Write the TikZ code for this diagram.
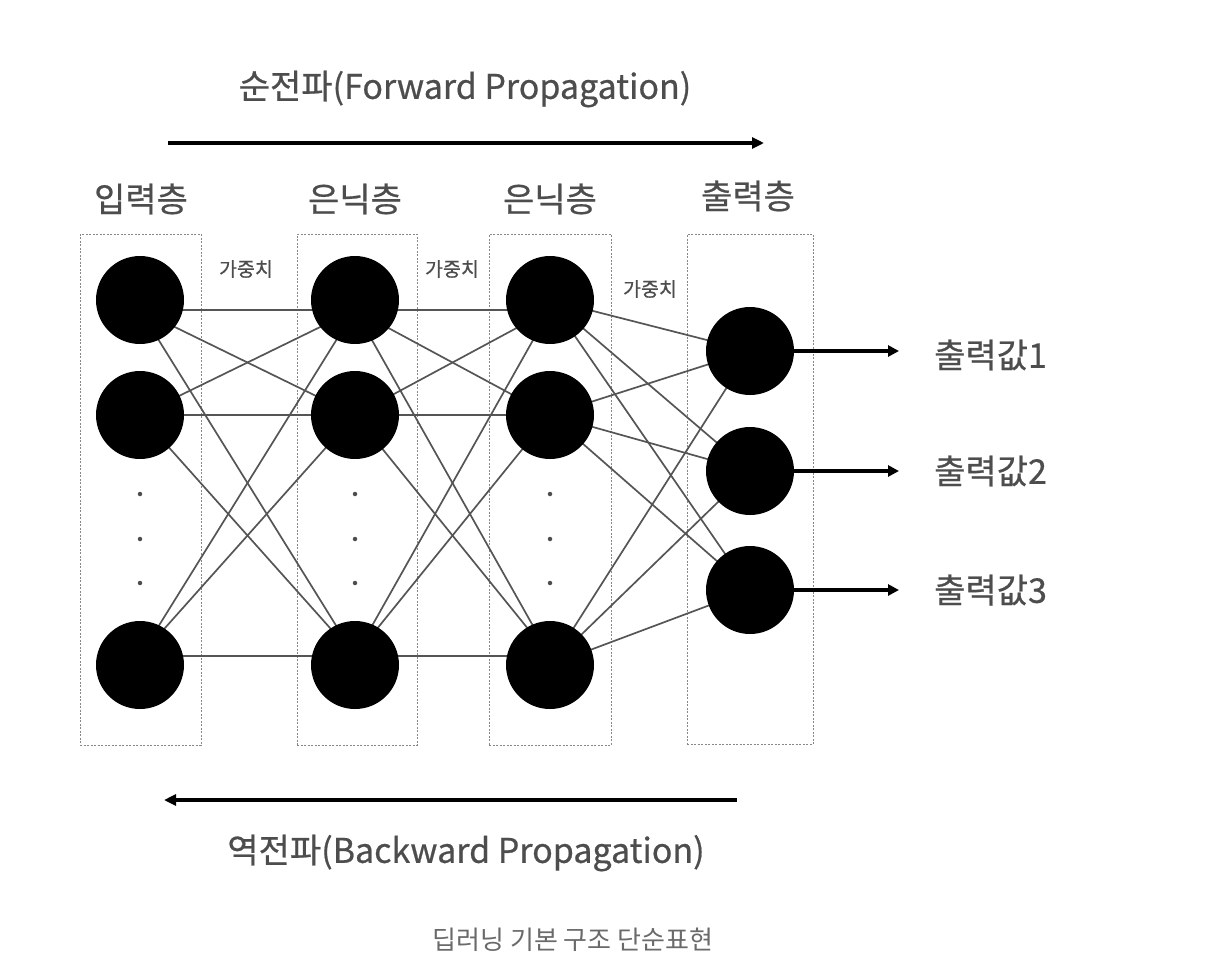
\documentclass[tikz,border=0pt]{standalone}
\usepackage{fontspec}
\setmainfont{Noto Sans CJK KR}
\newfontfamily\hfont[FakeBold=0.6]{Noto Sans CJK KR}
\usetikzlibrary{arrows.meta}
\definecolor{txtgray}{HTML}{4D4D4D}
\definecolor{capgray}{HTML}{6A6A6A}
\definecolor{edgegray}{HTML}{555555}
\definecolor{boxgray}{HTML}{888888}
\begin{document}
\begin{tikzpicture}[x=1pt,y=-1pt,
  neuron/.style={circle,fill=black,draw=none,minimum size=88pt,inner sep=0pt},
  layerbox/.style={draw=boxgray,line width=1pt,dash pattern=on 2pt off 1.5pt},
  edge/.style={draw=edgegray,line width=1.7pt},
  outarrow/.style={draw=black,line width=3.2pt,-{Triangle[length=11pt,width=11pt]}},
  proparrow/.style={draw=black,line width=3.4pt,-{Triangle[length=12pt,width=11pt]}},
  header/.style={text=txtgray,font=\hfont\fontsize{34}{40}\selectfont,inner sep=0pt},
  weight/.style={text=txtgray,font=\hfont\fontsize{19.5}{23}\selectfont,inner sep=0pt},
  outlabel/.style={text=txtgray,font=\hfont\fontsize{34}{40}\selectfont,inner sep=0pt,anchor=west},
  dotmark/.style={circle,fill=txtgray,minimum size=4.5pt,inner sep=0pt}
]
\useasboundingbox (0,0) rectangle (1218,970);
\fill[white] (0,0) rectangle (1218,970);

% layer boxes
\node[layerbox,draw,minimum width=121pt,minimum height=511pt,inner sep=0pt] (b1) at (140.5,489.5) {};
\node[layerbox,draw,minimum width=120pt,minimum height=511pt,inner sep=0pt] (b2) at (357,489.5) {};
\node[layerbox,draw,minimum width=122pt,minimum height=511pt,inner sep=0pt] (b3) at (550,489.5) {};
\node[layerbox,draw,minimum width=126pt,minimum height=510pt,inner sep=0pt] (b4) at (750,489) {};

% edge hub coordinates
\foreach \L/\x in {1/140,2/355,3/550}{
  \coordinate (h\L a) at (\x,310);
  \coordinate (h\L b) at (\x,415);
  \coordinate (h\L c) at (\x,656);
}
\coordinate (c3a) at (550,300);
\coordinate (c3b) at (550,415);
\coordinate (c3c) at (550,665);
\coordinate (c4a) at (750,351);
\coordinate (c4b) at (750,471);
\coordinate (c4c) at (750,590);

% edges
\foreach \s in {a,b,c}{
  \foreach \t in {a,b,c}{
    \draw[edge] (h1\s) -- (h2\t);
    \draw[edge] (h2\s) -- (h3\t);
    \draw[edge] (c3\s) -- (c4\t);
  }
}

% neurons
\node[neuron] (n1a) at (140,300) {};
\node[neuron] (n1b) at (140,415) {};
\node[neuron] (n1c) at (140,665) {};
\node[neuron] (n2a) at (355,300) {};
\node[neuron] (n2b) at (355,415) {};
\node[neuron] (n2c) at (355,665) {};
\node[neuron] (n3a) at (550,300) {};
\node[neuron] (n3b) at (550,415) {};
\node[neuron] (n3c) at (550,665) {};
\node[neuron] (n4a) at (750,351) {};
\node[neuron] (n4b) at (750,471) {};
\node[neuron] (n4c) at (750,590) {};

% dots
\foreach \x/\L in {140/1,355/2,550/3}{
  \node[dotmark] (d\L a) at (\x,494) {};
  \node[dotmark] (d\L b) at (\x,539) {};
  \node[dotmark] (d\L c) at (\x,583) {};
}

% headers
\node[header] (t1) at (141,199) {입력층};
\node[header] (t2) at (355,199) {은닉층};
\node[header] (t3) at (550,199) {은닉층};
\node[header] (t4) at (748,196) {출력층};

% weights
\node[weight] (w1) at (246,269) {가중치};
\node[weight] (w2) at (452,269) {가중치};
\node[weight] (w3) at (650,289) {가중치};

% outputs
\coordinate (o1) at (899,351);
\coordinate (o2) at (899,471);
\coordinate (o3) at (899,590);
\draw[outarrow] (n4a.east) -- (o1);
\draw[outarrow] (n4b.east) -- (o2);
\draw[outarrow] (n4c.east) -- (o3);
\node[outlabel] (l1) at (934,355) {출력값1};
\node[outlabel] (l2) at (934,471) {출력값2};
\node[outlabel] (l3) at (934,590) {출력값3};

% propagation arrows
\coordinate (fs) at (168,143);
\coordinate (fe) at (764,143);
\draw[proparrow] (fs) -- (fe);
\node[header] (ft) at (465,89) {순전파(Forward Propagation)};
\coordinate (bs) at (737,800);
\coordinate (be) at (164,800);
\draw[proparrow] (bs) -- (be);
\node[header] (bt) at (466,853) {역전파(Backward Propagation)};

% caption
\node[text=capgray,font=\fontsize{26}{31}\selectfont,inner sep=0pt] (cap) at (573,940) {딥러닝 기본 구조 단순표현};
\end{tikzpicture}
\end{document}
